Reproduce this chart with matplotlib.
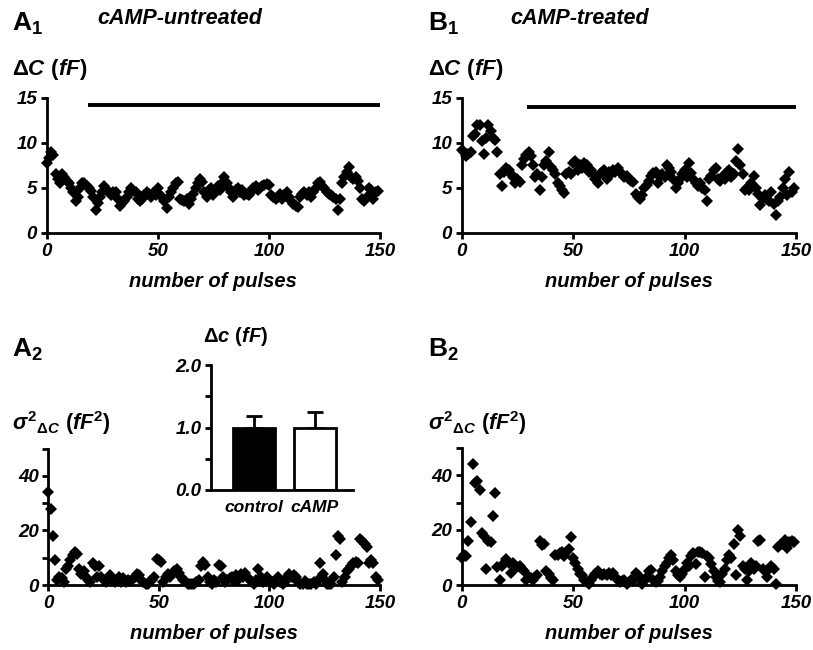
import numpy as np
import matplotlib
matplotlib.use("Agg")
import matplotlib.pyplot as plt
from matplotlib.ticker import MultipleLocator

# ---------------------------------------------------------------------------
# data (one value per pulse)
pulses = np.arange(150)

dc_untreated = [
    7.8, 8.3, 9.0, 8.7, 6.5, 6.0, 5.5, 6.5, 6.2, 5.8,
    5.5, 5.0, 4.5, 3.5, 4.0, 5.0, 5.5, 5.6, 5.2, 5.0,
    4.7, 4.0, 2.5, 3.3, 4.0, 4.5, 5.2, 4.8, 4.5, 4.2,
    4.5, 4.6, 3.8, 3.0, 3.3, 3.6, 4.0, 4.5, 5.0, 4.7,
    4.5, 3.8, 3.6, 3.8, 4.2, 4.5, 4.3, 4.0, 4.4, 4.2,
    5.0, 4.2, 4.0, 3.5, 2.8, 4.0, 4.5, 5.0, 5.5, 5.7,
    3.8, 3.7, 3.5, 3.8, 3.2, 3.8, 4.3, 5.0, 5.5, 6.0,
    5.7, 4.5, 4.0, 4.8, 5.0, 4.2, 4.7, 5.2, 4.8, 5.5,
    6.2, 5.5, 5.0, 4.5, 4.0, 4.8, 5.0, 4.5, 4.8, 4.2,
    4.3, 4.2, 4.6, 5.0, 5.2, 4.8, 5.0, 5.2, 5.3, 5.4,
    5.3, 4.2, 4.0, 3.8, 4.0, 4.3, 3.8, 4.2, 4.5, 4.0,
    3.5, 3.2, 3.0, 2.9, 4.0, 4.3, 4.5, 4.2, 4.5, 4.0,
    4.5, 5.0, 5.5, 5.7, 5.2, 5.0, 4.5, 4.3, 4.2, 4.0,
    3.8, 2.6, 3.8, 5.5, 6.2, 6.8, 7.3, 6.2, 6.0, 6.2,
    5.8, 5.0, 3.8, 3.6, 4.0, 5.0, 4.8, 3.8, 4.5, 4.7,
]

dc_treated = [
    9.2, 9.0, 8.6, 8.8, 9.0, 10.8, 11.0, 12.0, 12.0, 10.2,
    8.8, 10.5, 12.0, 11.3, 10.5, 10.3, 9.0, 6.5, 5.2, 6.8,
    7.2, 7.0, 6.5, 6.2, 5.5, 6.0, 5.7, 7.5, 8.2, 8.7,
    9.0, 8.5, 7.5, 6.2, 6.5, 4.8, 6.2, 7.5, 8.0, 9.0,
    7.3, 7.0, 6.5, 5.5, 5.2, 4.8, 4.4, 6.5, 6.8, 6.5,
    7.8, 8.0, 7.0, 7.5, 7.2, 7.8, 7.5, 6.8, 7.0, 6.5,
    6.0, 5.5, 6.5, 6.8, 7.0, 6.0, 6.8, 6.5, 7.0, 6.8,
    7.2, 6.8, 6.5, 6.2, 6.3, 6.0, 5.8, 5.7, 4.3, 4.0,
    3.8, 4.2, 5.0, 5.3, 5.8, 6.3, 6.7, 6.8, 5.6, 6.2,
    6.6, 6.2, 7.5, 7.2, 6.8, 6.0, 5.0, 5.5, 6.0, 6.5,
    7.0, 6.2, 7.8, 6.7, 6.0, 5.5, 5.2, 5.5, 5.0, 4.8,
    3.6, 6.0, 6.3, 7.0, 7.2, 6.0, 5.8, 6.2, 6.0, 6.8,
    7.0, 6.2, 6.5, 8.0, 9.3, 7.5, 6.5, 4.8, 5.0, 4.8,
    5.5, 6.3, 5.0, 4.3, 3.1, 3.8, 4.2, 3.8, 3.5, 4.5,
    3.2, 2.0, 3.5, 4.0, 5.0, 6.0, 4.2, 6.8, 4.5, 5.0,
]

var_untreated = [
    34, 28, 18, 9, 2, 3, 2.5, 1, 6, 7,
    9, 11, 12, 11.5, 6, 4, 5, 3, 2, 1,
    8, 7, 3, 7, 3, 2, 1, 2.5, 3.5, 2,
    1, 2, 3, 1, 2.5, 1, 2, 1.5, 2, 3,
    4, 3.5, 2, 1, 0.5, 0.2, 1.5, 2, 3, 9.5,
    9, 8.5, 1, 3, 4, 3, 4, 5, 6, 4.5,
    3, 2, 1.5, 0.5, 0.2, 0.3, 0.5, 1, 2, 7,
    8.5, 7.5, 3, 1, 0.5, 2, 1, 7.5, 7, 3,
    1, 2, 2.5, 3, 1.5, 3.5, 2, 4, 3, 4.5,
    3, 2, 1, 0.5, 2, 6, 3, 1, 2, 3,
    2, 1, 0.5, 2, 3, 1, 0.5, 1, 3, 4,
    3, 3.5, 3, 1, 0.5, 0.5, 1.5, 0.5, 0.2, 0.5,
    1, 0.5, 2, 8, 4, 2, 0.5, 0.3, 0.5, 3,
    11, 18, 17, 1, 3, 5, 6, 7, 8, 8.5,
    8, 17, 16, 15, 14, 8, 9, 8, 3, 2,
]

var_treated = [
    10, 11, 10.5, 16, 23, 44, 37, 38, 34.5, 19,
    18, 6, 16, 15.5, 25, 33.5, 6.5, 2, 7, 8,
    9.5, 8, 4.5, 8, 7, 6.5, 7, 6, 5, 2,
    3, 2.5, 2, 3, 3.5, 16, 14.5, 15, 5, 4,
    2.5, 2, 11, 11, 11.5, 12, 10.5, 12, 13, 17.5,
    10, 8, 6, 4, 3.5, 2, 1, 0.5, 2, 3,
    4, 5, 4, 3.5, 4, 3.5, 4.5, 3.5, 4.5, 3,
    2, 1, 1.5, 2, 0.5, 1, 2, 1.5, 4.5, 3.5,
    2.5, 0.5, 1.5, 3, 5, 5.5, 2, 1, 1.5, 3,
    5, 7, 8, 10, 11, 9, 5, 3.5, 3, 4,
    6, 8, 7, 10.5, 11.5, 7.5, 12, 12, 11.5, 3,
    10.5, 10, 7.5, 5, 3, 1.5, 1, 4, 6, 9,
    11, 10, 15, 3.5, 20, 18, 7, 6, 2, 5,
    8, 6, 7, 16, 16.5, 6, 5, 3, 6, 7,
    6, 0.3, 14, 14.5, 15, 16.5, 13.5, 15.5, 16, 15.5,
]

# inset bar chart
groups = ["control", "cAMP"]
group_means = [1.0, 1.0]
group_errs = [0.18, 0.25]

# ---------------------------------------------------------------------------
plt.rcParams["font.family"] = ["Liberation Sans", "DejaVu Sans"]
plt.rcParams["font.weight"] = "bold"
plt.rcParams["font.style"] = "italic"
plt.rcParams["axes.labelweight"] = "bold"
plt.rcParams["mathtext.fontset"] = "custom"
plt.rcParams["mathtext.rm"] = "Liberation Sans:style=normal:weight=bold"
plt.rcParams["mathtext.it"] = "Liberation Sans:style=italic:weight=bold"
plt.rcParams["mathtext.bf"] = "Liberation Sans:style=normal:weight=bold"

fig = plt.figure(figsize=(8.13, 6.5), dpi=100)
fig.patch.set_facecolor("white")

W, H = 813, 650


def px_axes(x0, x1, ytop, ybot):
    # axes placed from pixel coordinates of the reference
    return fig.add_axes([x0 / W, 1 - ybot / H, (x1 - x0) / W, (ybot - ytop) / H])


def style(ax, ymax, ymajor, ylabel_step):
    ax.spines[["top", "right"]].set_visible(False)
    ax.spines[["left", "bottom"]].set_linewidth(2.0)
    ax.set_xlim(0, 150)
    ax.set_ylim(0, ymax)
    ax.xaxis.set_major_locator(MultipleLocator(50))
    ax.yaxis.set_major_locator(MultipleLocator(ymajor))
    ax.yaxis.set_major_formatter(
        lambda v, i: f"{v:.0f}" if round(v) % ylabel_step == 0 else "")
    ax.tick_params(direction="out", length=4, width=2.0, labelsize=13.5, pad=3)
    for t in ax.get_xticklabels() + ax.get_yticklabels():
        t.set_fontweight("bold")
        t.set_fontstyle("italic")
    ax.set_xlabel("number of pulses", fontsize=14.5, labelpad=9)


axA1 = px_axes(46.7, 380, 98, 233)
axB1 = px_axes(461.7, 796, 98, 233)
axA2 = px_axes(48.3, 380, 448.7, 585)
axB2 = px_axes(461.7, 796, 447.5, 585)

for ax, vals in [(axA1, dc_untreated), (axB1, dc_treated)]:
    ax.plot(pulses, vals, "D", color="black", ms=6, mew=0, clip_on=False)
    style(ax, 15, 5, 5)

for ax, vals in [(axA2, var_untreated), (axB2, var_treated)]:
    ax.plot(pulses, vals, "D", color="black", ms=6, mew=0, clip_on=False)
    style(ax, 50, 10, 20)

# thick bars marking the steady-state window
axA1.plot([18.5, 150], [14.2, 14.2], color="black", lw=2.8, solid_capstyle="butt")
axB1.plot([29.5, 150], [14.0, 14.0], color="black", lw=2.8, solid_capstyle="butt")

# ---------------------------------------------------------------------------
# inset with mean quantal size
axIn = px_axes(211, 353, 365, 490)
xpos = np.arange(1, len(groups) + 1)
axIn.bar(xpos, group_means, width=0.68, color=["black", "white"],
         edgecolor="black", linewidth=2.0, zorder=2)
axIn.errorbar(xpos, group_means, yerr=[[0, 0], group_errs], fmt="none",
              ecolor="black", elinewidth=2.0, capsize=6, capthick=2.0, zorder=1)
axIn.set_xlim(0.295, 2.623)
axIn.set_ylim(0, 2.0)
axIn.spines[["top", "right"]].set_visible(False)
axIn.spines[["left", "bottom"]].set_linewidth(2.0)
axIn.yaxis.set_major_locator(MultipleLocator(1.0))
axIn.yaxis.set_minor_locator(MultipleLocator(0.5))
axIn.yaxis.set_major_formatter(lambda v, i: f"{v:.1f}")
axIn.set_xticks(xpos, groups)
axIn.tick_params(axis="x", length=0, labelsize=12.5, pad=7)
axIn.tick_params(axis="y", which="both", direction="out", length=4, width=2.0,
                 labelsize=13.5, pad=3)
for t in axIn.get_xticklabels() + axIn.get_yticklabels():
    t.set_fontweight("bold")
    t.set_fontstyle("italic")
fig.text(203 / W, 1 - 337 / H, r"$\mathrm{\Delta}c\ (fF)$", fontsize=14.5,
         va="center", ha="left")

# ---------------------------------------------------------------------------
# panel letters, titles and y labels
for x, y, s in [(12, 24, r"$\mathrm{A}_{\mathrm{1}}$"), (428, 24, r"$\mathrm{B}_{\mathrm{1}}$"),
                (12, 350, r"$\mathrm{A}_{\mathrm{2}}$"), (428, 350, r"$\mathrm{B}_{\mathrm{2}}$")]:
    fig.text(x / W, 1 - y / H, s, fontsize=19, ha="left", va="center")

fig.text(180 / W, 1 - 18 / H, "cAMP-untreated", fontsize=15.5, ha="center", va="center")
fig.text(580 / W, 1 - 18 / H, "cAMP-treated", fontsize=15.5, ha="center", va="center")

for x in (12, 428):
    fig.text(x / W, 1 - 70 / H, r"$\mathrm{\Delta}C\ (fF)$", fontsize=16,
             ha="left", va="center")
    fig.text(x / W, 1 - 423 / H, r"$\sigma^{2}{}_{\mathrm{\Delta}C}\ (fF^{2})$",
             fontsize=15.5, ha="left", va="center")

fig.savefig("out.png", dpi=100, facecolor="white")
